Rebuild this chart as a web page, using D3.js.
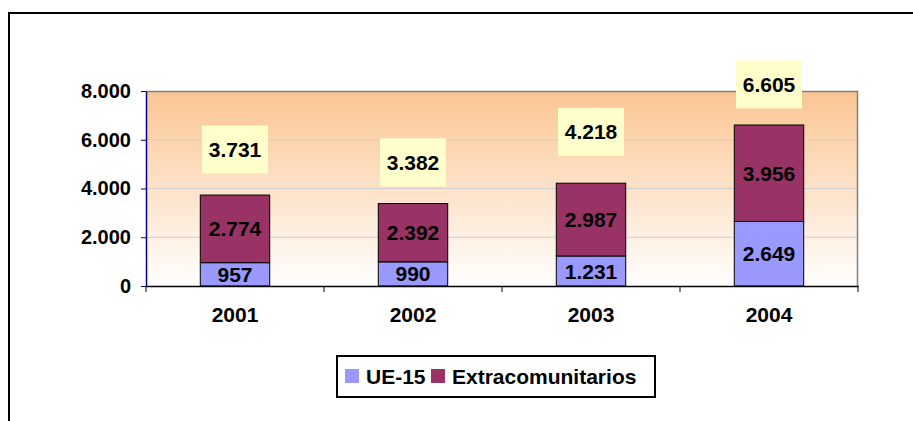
<!DOCTYPE html>
<html>
<head>
<meta charset="utf-8">
<script src="https://cdn.jsdelivr.net/npm/d3@7"></script>
<style>
  body { margin: 0; background: #fff; }
  svg { display: block; font-family: "Liberation Sans", Arial, sans-serif; font-weight: bold; }
</style>
</head>
<body>
<script>
var years = ["2001", "2002", "2003", "2004"];
var ue15 = [957, 990, 1231, 2649];
var extra = [2774, 2392, 2987, 3956];
var totals = [3731, 3382, 4218, 6605];
var yTicks = [0, 2000, 4000, 6000, 8000];
var seriesNames = ["UE-15", "Extracomunitarios"];

var width = 913, height = 421,
    margin = { top: 91, right: 55, bottom: 135, left: 146 },
    colors = ["#9999ff", "#993366"];

var fmt = function (v) { return d3.format(",")(v).replace(/,/g, "."); };

var svg = d3.select("body").append("svg")
    .attr("width", width)
    .attr("height", height);

// outer chart border
svg.append("rect")
    .attr("x", 9).attr("y", 13)
    .attr("width", width).attr("height", height)
    .attr("fill", "none").attr("stroke", "#000").attr("stroke-width", 2);

var defs = svg.append("defs");
var grad = defs.append("linearGradient")
    .attr("id", "bg").attr("x1", 0).attr("y1", 0).attr("x2", 0).attr("y2", 1);
grad.append("stop").attr("offset", "0%").attr("stop-color", "#fbc592");
grad.append("stop").attr("offset", "100%").attr("stop-color", "#ffffff");

var w = width - margin.left - margin.right,
    h = height - margin.top - margin.bottom;

var g = svg.append("g").attr("transform", `translate(${margin.left},${margin.top})`);

var x = d3.scaleBand().domain(years).range([0, w]).paddingInner(0.61).paddingOuter(0.305);
var xCat = d3.scaleBand().domain(years).range([0, w]);
var y = d3.scaleLinear().domain([0, 8000]).range([h, 0]);

// plot background
g.append("rect")
    .attr("width", w).attr("height", h)
    .attr("fill", "url(#bg)");

// gridlines
g.selectAll(".grid")
    .data(yTicks.filter(d => d > 0 && d < 8000))
    .enter().append("line")
    .attr("x1", 0).attr("x2", w)
    .attr("y1", d => y(d)).attr("y2", d => y(d))
    .attr("stroke", "#cfcfcf").attr("stroke-width", 1);

// plot frame top/right
g.append("path")
    .attr("d", `M0,0.5H${w - 0.5}V${h}`)
    .attr("fill", "none").attr("stroke", "#808080").attr("stroke-width", 1.5);

// stacked data
var rows = years.map((yr, i) => ({ year: yr, ue15: ue15[i], extra: extra[i], total: totals[i] }));
var stack = d3.stack().keys(["ue15", "extra"])(rows);

var layers = g.selectAll(".layer")
    .data(stack)
    .enter().append("g")
    .attr("class", "layer")
    .attr("fill", (d, i) => colors[i]);

layers.selectAll("rect")
    .data(d => d)
    .enter().append("rect")
    .attr("x", d => x(d.data.year))
    .attr("y", d => y(d[1]))
    .attr("width", x.bandwidth())
    .attr("height", d => y(d[0]) - y(d[1]))
    .attr("stroke", "#000").attr("stroke-width", 1);

layers.selectAll("text")
    .data(d => d)
    .enter().append("text")
    .attr("x", d => x(d.data.year) + x.bandwidth() / 2)
    .attr("y", d => (y(d[0]) + y(d[1])) / 2)
    .attr("dy", "0.36em")
    .attr("text-anchor", "middle")
    .attr("fill", "#000")
    .style("font-size", "21px")
    .text(d => fmt(d[1] - d[0]));

// total labels: centred on an invisible stacked segment (total..2*total), kept near the top
var tot = g.selectAll(".tot")
    .data(rows)
    .enter().append("g")
    .attr("class", "tot")
    .attr("transform", d => `translate(${x(d.year) + x.bandwidth() / 2},${Math.max(y(d.total * 1.5), -6.5)})`);

tot.append("rect")
    .attr("x", -33).attr("y", -24)
    .attr("width", 66).attr("height", 48)
    .attr("fill", "#ffffcc");

tot.append("text")
    .attr("text-anchor", "middle")
    .attr("dy", "0.36em")
    .style("font-size", "21px")
    .text(d => fmt(d.total));

// y axis
var yAxis = g.append("g")
    .call(d3.axisLeft(y).tickValues(yTicks).tickFormat(fmt).tickSize(5).tickSizeOuter(0));
yAxis.select(".domain").attr("stroke", "#000080").attr("stroke-width", 1.5);
yAxis.selectAll(".tick line").attr("stroke", "#000080");
yAxis.selectAll("text")
    .attr("x", -15)
    .attr("fill", "#000")
    .style("font-size", "20px")
    .style("font-family", "'Liberation Sans', Arial, sans-serif")
    .style("font-weight", "bold");

// x axis
var xAxis = g.append("g")
    .attr("transform", `translate(0,${h})`)
    .call(d3.axisBottom(xCat).tickSize(0).tickSizeOuter(0));
xAxis.select(".domain").attr("stroke", "#000").attr("stroke-width", 1.5);
xAxis.selectAll("text")
    .attr("y", 21)
    .attr("dy", "0.71em")
    .attr("fill", "#000")
    .style("font-size", "21px")
    .style("font-family", "'Liberation Sans', Arial, sans-serif")
    .style("font-weight", "bold");

// category separators
g.selectAll(".sep")
    .data(years.map(d => xCat(d)).concat([w]))
    .enter().append("line")
    .attr("x1", d => d).attr("x2", d => d)
    .attr("y1", h).attr("y2", h + 6)
    .attr("stroke", "#000");

// legend
var legend = svg.append("g").attr("transform", "translate(337,356)");
legend.append("rect")
    .attr("width", 318).attr("height", 41)
    .attr("fill", "#fff").attr("stroke", "#000").attr("stroke-width", 2);

var lx = [8, 94];
seriesNames.forEach((name, i) => {
    legend.append("rect")
        .attr("x", lx[i]).attr("y", 13)
        .attr("width", 14).attr("height", 14)
        .attr("fill", colors[i]);
    legend.append("text")
        .attr("x", lx[i] + 21).attr("y", 28)
        .style("font-size", "21px")
        .text(name);
});
</script>
</body>
</html>
